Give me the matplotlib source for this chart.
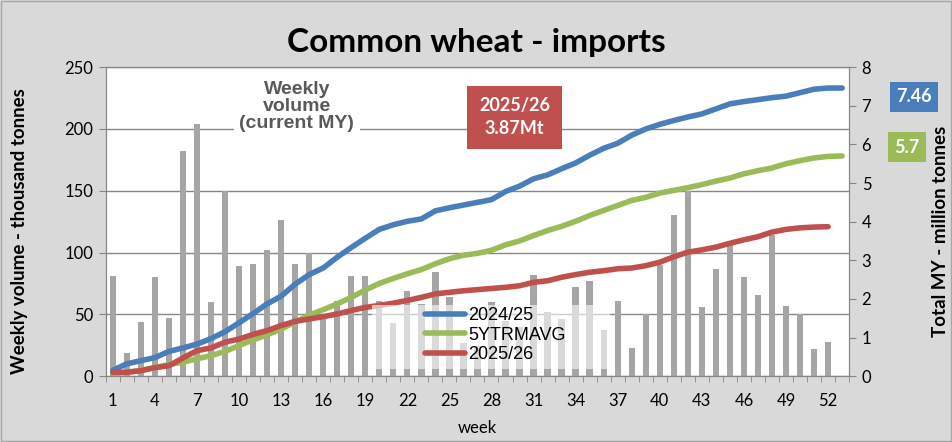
import matplotlib
matplotlib.use("Agg")
import matplotlib.pyplot as plt
import matplotlib.ticker as ticker
from matplotlib.patches import Rectangle
import numpy as np

weeks = list(range(1, 54))

# weekly volume of the current MY, thousand tonnes (weeks 1-52)
weekly_volume = [81, 19, 44, 80, 47, 182, 204, 60, 150, 89,
                 91, 102, 126, 91, 100, 48, 61, 81, 81, 61,
                 43, 69, 58, 84, 64, 27, 24, 60, 45, 40,
                 82, 52, 46, 72, 77, 37, 61, 23, 50, 90,
                 130, 150, 56, 87, 106, 80, 66, 114, 57, 50,
                 22, 28]

# cumulative totals, million tonnes
cum_2024_25 = [0.15, 0.32, 0.40, 0.48, 0.64, 0.73, 0.83, 0.97, 1.15, 1.38,
               1.62, 1.87, 2.07, 2.38, 2.63, 2.80, 3.08, 3.33, 3.57, 3.80,
               3.92, 4.01, 4.07, 4.28, 4.36, 4.43, 4.50, 4.57, 4.78, 4.92,
               5.11, 5.21, 5.37, 5.52, 5.72, 5.90, 6.03, 6.24, 6.40, 6.52,
               6.62, 6.71, 6.79, 6.92, 7.05, 7.11, 7.16, 7.21, 7.25, 7.34,
               7.43, 7.46, 7.46]
cum_5yr_avg = [0.06, 0.10, 0.15, 0.22, 0.30, 0.36, 0.45, 0.53, 0.64, 0.79,
               0.94, 1.07, 1.22, 1.40, 1.58, 1.72, 1.87, 2.04, 2.23, 2.40,
               2.53, 2.65, 2.76, 2.91, 3.04, 3.13, 3.18, 3.26, 3.40, 3.50,
               3.64, 3.77, 3.88, 4.01, 4.16, 4.29, 4.42, 4.55, 4.63, 4.74,
               4.81, 4.88, 4.96, 5.05, 5.13, 5.24, 5.32, 5.39, 5.50, 5.58,
               5.65, 5.69, 5.70]
cum_2025_26 = [0.10, 0.10, 0.14, 0.22, 0.27, 0.47, 0.66, 0.73, 0.88, 0.96,
               1.08, 1.18, 1.31, 1.42, 1.48, 1.54, 1.61, 1.70, 1.78, 1.83,
               1.89, 1.96, 2.04, 2.13, 2.17, 2.21, 2.24, 2.27, 2.30, 2.34,
               2.43, 2.47, 2.56, 2.63, 2.69, 2.73, 2.78, 2.80, 2.86, 2.95,
               3.09, 3.21, 3.27, 3.34, 3.44, 3.53, 3.61, 3.73, 3.80, 3.84,
               3.86, 3.87]

BLUE = "#4A7EBB"
GREEN = "#9BBB59"
RED = "#C0504D"
BAR = "#A5A5A5"
SPINE = "#868686"
CAL = ["Lato", "DejaVu Sans"]
ARIAL = ["Liberation Sans", "DejaVu Sans"]

fig = plt.figure(figsize=(9.53, 4.42), dpi=100, facecolor="#D9D9D9")
fig.patches.append(Rectangle((0.001, 0.002), 0.997, 0.995, transform=fig.transFigure,
                             fill=False, edgecolor="#A6A6A6", linewidth=1))
ax = fig.add_axes([0.111, 0.149, 0.780, 0.699])
ax2 = ax.twinx()

ax.bar(weeks[:len(weekly_volume)], weekly_volume, width=0.45, color=BAR, zorder=2)
ax.set_xlim(0.5, 53.5)
ax.set_ylim(0, 250)
ax.set_yticks(range(0, 251, 50))
ax.yaxis.grid(True, color=SPINE, linewidth=1, zorder=1)
ax.set_axisbelow(True)
ax.set_facecolor("white")

ax2.plot(weeks[:len(cum_2024_25)], cum_2024_25, color=BLUE, lw=4, solid_capstyle="round", label="2024/25")
ax2.plot(weeks[:len(cum_5yr_avg)], cum_5yr_avg, color=GREEN, lw=4, solid_capstyle="round", label="5YTRMAVG")
ax2.plot(weeks[:len(cum_2025_26)], cum_2025_26, color=RED, lw=4, solid_capstyle="round", label="2025/26")
ax2.set_ylim(0, 8)
ax2.set_yticks(range(0, 9))

# x ticks: labels every 3 weeks, tick marks between categories
ax.set_xticks(range(1, 54, 3))
ax.set_xticks(np.arange(0.5, 54, 1), minor=True)
ax.tick_params(axis="x", which="major", length=0, pad=12)
ax.tick_params(axis="x", which="minor", length=4, color=SPINE)
ax.tick_params(axis="y", length=5, color=SPINE, pad=4)
ax2.tick_params(axis="y", length=5, color=SPINE, pad=4)
for a in (ax, ax2):
    for s in a.spines.values():
        s.set_color(SPINE)
    for lab in a.get_xticklabels() + a.get_yticklabels():
        lab.set_fontfamily(CAL)
        lab.set_fontsize(12)

ax.set_xlabel("week", fontsize=12, family=CAL, labelpad=8)
ax.set_ylabel("Weekly volume - thousand tonnes", fontsize=13.5, family=CAL, fontweight="bold")
ax.yaxis.set_label_coords(-0.104, 0.47)
ax2.set_ylabel("Total MY - million tonnes", fontsize=13.5, family=CAL, fontweight="bold")
ax2.yaxis.set_label_coords(1.111, 0.47)

fig.text(0.5, 0.903, "Common wheat - imports", ha="center", va="center",
         fontsize=24, fontweight="bold", family=CAL)

ax.text(0.257, 0.874, "Weekly\nvolume\n(current MY)", transform=ax.transAxes,
        ha="center", va="center", fontsize=14, fontweight="bold", family=ARIAL,
        color="#595959", linespacing=1.0,
        bbox=dict(facecolor="white", edgecolor="none", pad=4), zorder=5)

ax2.text(0.55, 0.838, "2025/26\n3.87Mt", transform=ax2.transAxes, ha="center", va="center",
         fontsize=13, fontweight="bold", family=CAL, color="white", linespacing=1.4,
         bbox=dict(facecolor=RED, edgecolor="none", boxstyle="square,pad=0.65"), zorder=6)

fig.text(0.959, 0.781, "7.46", ha="center", va="center", fontsize=13, fontweight="bold",
         family=CAL, color="white", bbox=dict(facecolor=BLUE, edgecolor="none", boxstyle="square,pad=0.35"))
fig.text(0.952, 0.667, "5.7", ha="center", va="center", fontsize=13, fontweight="bold",
         family=CAL, color="white", bbox=dict(facecolor=GREEN, edgecolor="none", boxstyle="square,pad=0.35"))

# semi-transparent legend area
ax2.add_patch(Rectangle((0.358, 0.023), 0.32, 0.207, transform=ax2.transAxes,
                        facecolor="white", alpha=0.6, edgecolor="none", zorder=4))
leg = ax2.legend(loc="lower left", bbox_to_anchor=(0.41, -0.005), frameon=False,
                 prop={"family": ARIAL, "size": 13}, handlelength=2.2,
                 handletextpad=0.2, labelspacing=0.15, borderpad=0.3)
leg.set_zorder(6)

fig.savefig("out.png", dpi=100, facecolor=fig.get_facecolor())
